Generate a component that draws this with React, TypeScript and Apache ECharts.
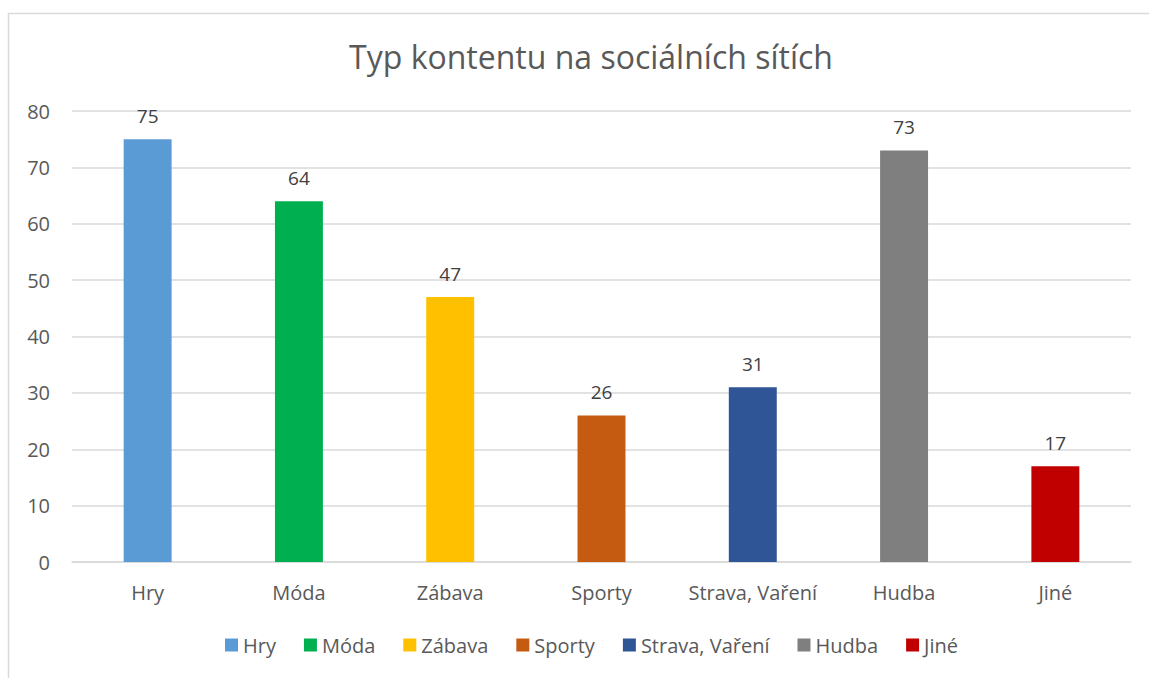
import React, { useEffect, useRef } from "react";
import * as echarts from "echarts";

const categories = ["Hry", "Móda", "Zábava", "Sporty", "Strava, Vaření", "Hudba", "Jiné"];
const values = [75, 64, 47, 26, 31, 73, 17];
const colors = ["#5b9bd5", "#00b050", "#ffc000", "#c55a11", "#2f5597", "#7f7f7f", "#c00000"];
const yTicks = [0, 10, 20, 30, 40, 50, 60, 70, 80];

const FONT = "Open Sans";

export default function App() {
  const ref = useRef<HTMLDivElement>(null);
  useEffect(() => {
    document.body.style.margin = "0";
    const chart = echarts.init(ref.current!, undefined, { renderer: "svg" });
    const series = categories.map((name, i) => ({
      name,
      type: "bar",
      barWidth: "31.7%",
      barGap: "-100%",
      itemStyle: { color: colors[i] },
      label: {
        show: true,
        position: "top",
        distance: 14,
        color: "#404040",
        fontSize: 19,
        fontFamily: FONT,
      },
      data: categories.map((_, j) => (j === i ? values[i] : null)),
    }));
    chart.setOption({
      animation: false,
      backgroundColor: "#ffffff",
      graphic: [
        {
          type: "rect",
          shape: { x: 8.5, y: 13.5, width: 1400, height: 1000 },
          style: { fill: "none", stroke: "#d9d9d9", lineWidth: 1.5 },
          silent: true,
        },
      ],
      title: {
        text: "Typ kontentu na sociálních sítích",
        left: 586,
        textAlign: "center",
        top: 35,
        textStyle: { fontFamily: FONT, fontSize: 32, fontWeight: "normal", color: "#595959" },
      },
      legend: {
        data: categories,
        bottom: 18,
        left: 220,
        itemWidth: 13,
        itemHeight: 13,
        itemGap: 28,
        icon: "rect",
        textStyle: { fontFamily: FONT, fontSize: 20, color: "#595959" },
      },
      grid: { left: 72, right: 18, top: 111, bottom: 116 },
      xAxis: {
        type: "category",
        data: categories,
        axisLine: { lineStyle: { color: "#d9d9d9", width: 1.5 } },
        axisTick: { show: false },
        axisLabel: { color: "#595959", fontSize: 20, fontFamily: FONT, margin: 20, interval: 0 },
      },
      yAxis: {
        type: "value",
        min: yTicks[0],
        max: yTicks[yTicks.length - 1],
        interval: 10,
        axisLine: { show: false },
        axisTick: { show: false },
        splitLine: { lineStyle: { color: "#d9d9d9", width: 1.5 } },
        axisLabel: { color: "#595959", fontSize: 20, fontFamily: FONT, margin: 22 },
      },
      series,
    });
    return () => chart.dispose();
  }, []);
  return <div ref={ref} style={{ width: 1149, height: 678 }} />;
}
